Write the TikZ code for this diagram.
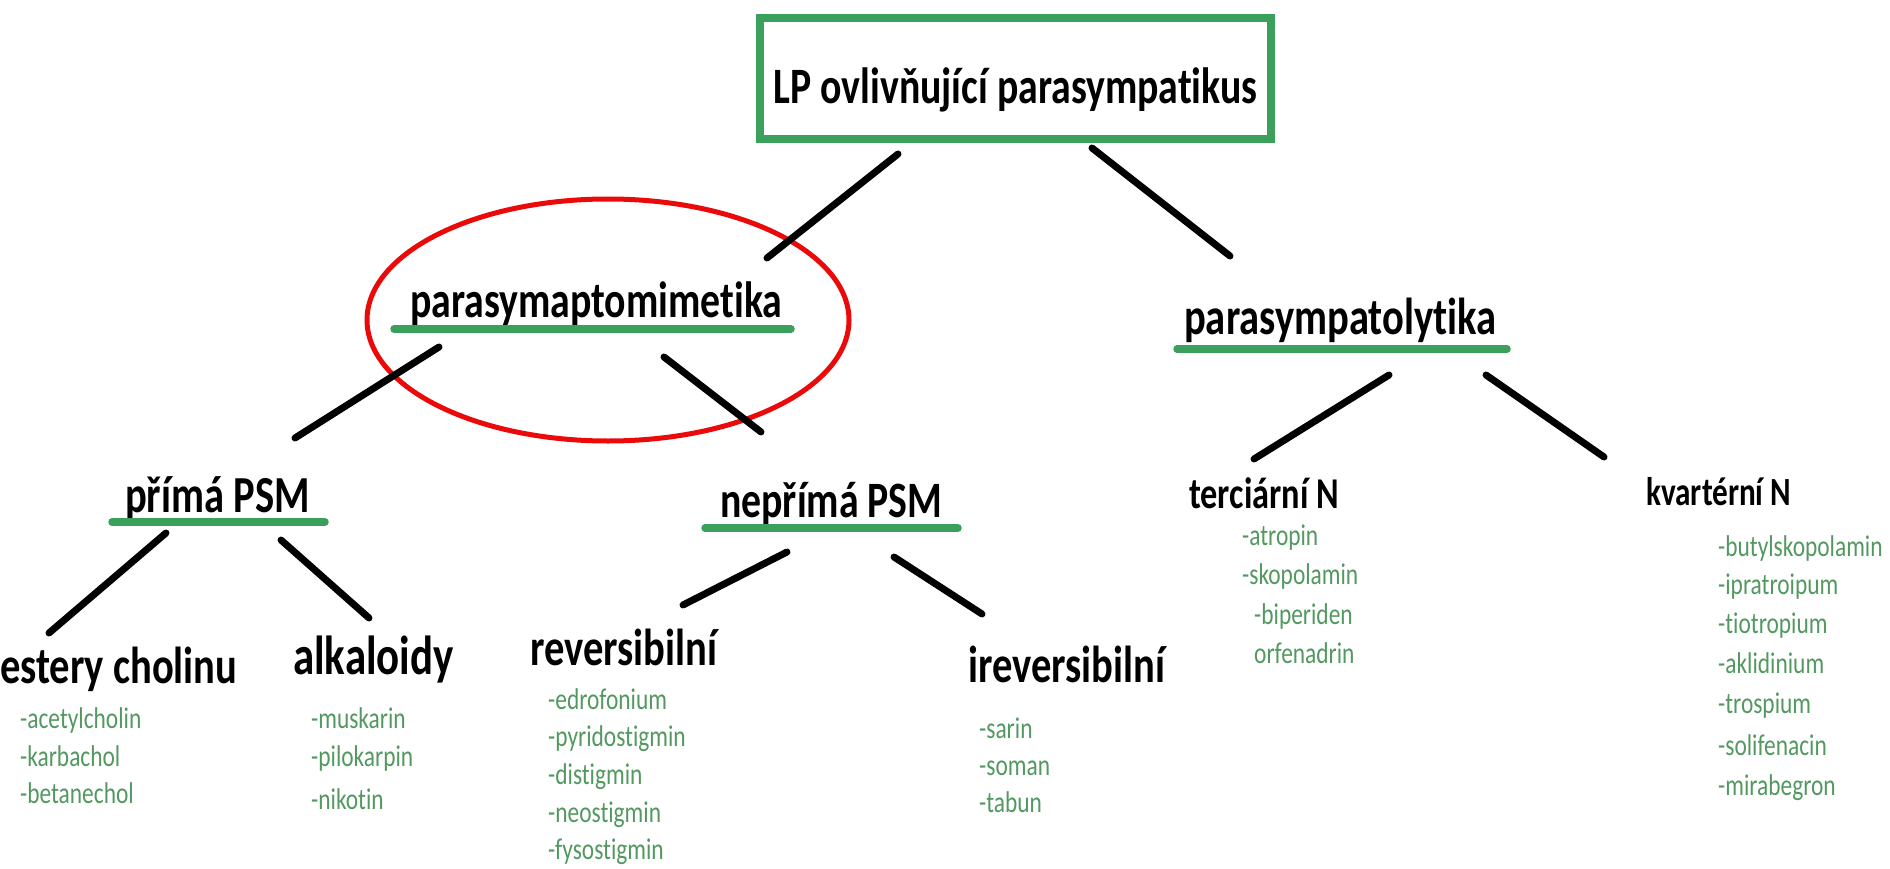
\documentclass[tikz,border=0pt]{standalone}
\usepackage{fontspec}
\setmainfont{Carlito}
\newfontfamily\hfont[FakeStretch=0.78,Ligatures=NoCommon]{Carlito}
\definecolor{boxgreen}{RGB}{58,160,92}
\definecolor{listgreen}{RGB}{82,152,96}
\definecolor{ovalred}{RGB}{235,10,10}
\tikzset{
  lbl/.style={inner sep=0pt, anchor=base west, text=black, font=\hfont\bfseries\fontsize{#1}{#1}\selectfont},
  sub/.style={inner sep=0pt, anchor=base west, text=listgreen, font=\hfont\fontsize{30}{30}\selectfont},
  uline/.style={boxgreen, line width=7.5pt, line cap=round},
  conn/.style={black, line width=7pt, line cap=round},
}
\begin{document}
\begin{tikzpicture}[x=1pt,y=-1pt]
\useasboundingbox (0,0) rectangle (1890,869);
% title
\node[draw=boxgreen, line width=8pt, minimum width=511pt, minimum height=121pt, inner sep=0pt,
      text height=50pt, text depth=0pt,
      font=\hfont\bfseries\fontsize{51}{51}\selectfont] (title) at (1015.5,78.5) {LP ovlivňující parasympatikus};
% level 1
\node[lbl=51] (psm) at (410,317) {parasymaptomimetika};
\draw[uline] (394,329) -- (791,329);
\node[lbl=52] (pl) at (1184,334) {parasympatolytika};
\draw[uline] (1177,349) -- (1507,349);
\draw[ovalred, line width=5pt] (608,320) ellipse [x radius=241, y radius=121];
% level 2
\node[lbl=52] (prima) at (125,512) {přímá PSM};
\draw[uline] (112,522) -- (325,522);
\node[lbl=51] (neprima) at (720,517) {nepřímá PSM};
\draw[uline] (705,528) -- (958,528);
\node[lbl=44] (terc) at (1189,508) {terciární N};
\node[lbl=40] (kvart) at (1646,505) {kvartérní N};
% level 3
\node[lbl=52] (estery) at (0,683) {estery cholinu};
\node[lbl=55] (alka) at (293,674) {alkaloidy};
\node[lbl=52] (rev) at (530,665) {reversibilní};
\node[lbl=52] (irev) at (968,682) {ireversibilní};
% lists
\node[sub] (e1) at (20,728) {-acetylcholin};
\node[sub] (e2) at (20,766) {-karbachol};
\node[sub] (e3) at (20,803) {-betanechol};
\node[sub] (a1) at (311,728) {-muskarin};
\node[sub] (a2) at (311,766) {-pilokarpin};
\node[sub] (a3) at (311,809) {-nikotin};
\node[sub] (r1) at (548,709) {-edrofonium};
\node[sub] (r2) at (548,746) {-pyridostigmin};
\node[sub] (r3) at (548,784) {-distigmin};
\node[sub] (r4) at (548,822) {-neostigmin};
\node[sub] (r5) at (548,859) {-fysostigmin};
\node[sub] (i1) at (979,738) {-sarin};
\node[sub] (i2) at (979,775) {-soman};
\node[sub] (i3) at (979,812) {-tabun};
\node[sub] (t1) at (1242,545) {-atropin};
\node[sub] (t2) at (1242,584) {-skopolamin};
\node[sub] (t3) at (1254,624) {-biperiden};
\node[sub] (t4) at (1254,663) {orfenadrin};
\node[sub] (k1) at (1718,556) {-butylskopolamin};
\node[sub] (k2) at (1718,594) {-ipratroipum};
\node[sub] (k3) at (1718,633) {-tiotropium};
\node[sub] (k4) at (1718,673) {-aklidinium};
\node[sub] (k5) at (1718,713) {-trospium};
\node[sub] (k6) at (1718,755) {-solifenacin};
\node[sub] (k7) at (1718,795) {-mirabegron};
% connector ends
\coordinate (title-psm) at (898,154);  \coordinate (psm-up) at (767,258);
\coordinate (title-pl) at (1092,148);  \coordinate (pl-up) at (1230,256);
\coordinate (psm-prima) at (439,347);  \coordinate (prima-up) at (295,438);
\coordinate (psm-neprima) at (664,357); \coordinate (neprima-up) at (761,432);
\coordinate (pl-terc) at (1389,375);   \coordinate (terc-up) at (1254,459);
\coordinate (pl-kvart) at (1486,375);  \coordinate (kvart-up) at (1604,457);
\coordinate (prima-estery) at (166,533); \coordinate (estery-up) at (49,633);
\coordinate (prima-alka) at (281,540); \coordinate (alka-up) at (369,618);
\coordinate (neprima-rev) at (787,552); \coordinate (rev-up) at (683,605);
\coordinate (neprima-irev) at (894,557); \coordinate (irev-up) at (982,614);
\draw[conn] (title-psm) -- (psm-up);
\draw[conn] (title-pl) -- (pl-up);
\draw[conn] (psm-prima) -- (prima-up);
\draw[conn] (psm-neprima) -- (neprima-up);
\draw[conn] (pl-terc) -- (terc-up);
\draw[conn] (pl-kvart) -- (kvart-up);
\draw[conn] (prima-estery) -- (estery-up);
\draw[conn] (prima-alka) -- (alka-up);
\draw[conn] (neprima-rev) -- (rev-up);
\draw[conn] (neprima-irev) -- (irev-up);
\end{tikzpicture}
\end{document}
